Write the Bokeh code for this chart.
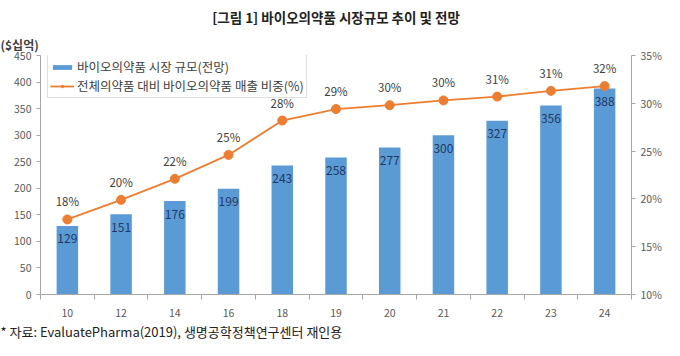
from bokeh.plotting import figure
from bokeh.models import (Range1d, LinearAxis, FixedTicker, PrintfTickFormatter,
                          Title, Legend, LegendItem, ColumnDataSource)
from bokeh.core.properties import value
from bokeh.embed import file_html
from bokeh.resources import INLINE

years = ["10", "12", "14", "16", "18", "19", "20", "21", "22", "23", "24"]
market = [129, 151, 176, 199, 243, 258, 277, 300, 327, 356, 388]
share = [17.85, 19.9, 22.1, 24.6, 28.2, 29.4, 29.8, 30.3, 30.7, 31.3, 31.8]
share_labels = ["18%", "20%", "22%", "25%", "28%", "29%", "30%", "30%", "31%", "31%", "32%"]
left_ticks = [0, 50, 100, 150, 200, 250, 300, 350, 400, 450]
right_ticks = [10, 15, 20, 25, 30, 35]

FONT = "Noto Sans CJK KR"
BLUE = "#5B9BD5"
ORANGE = "#ED7D31"
AXIS = "#A6A6A6"
TICKTXT = "#595959"

xs = [i + 0.5 for i in range(len(years))]
src = ColumnDataSource(dict(x=xs, market=market, share=share,
                            mlab=[str(v) for v in market], slab=share_labels))

p = figure(width=664, height=340, output_backend="svg", toolbar_location=None,
           x_range=Range1d(0, len(years)), y_range=Range1d(0, 450),
           min_border_left=40, min_border_right=30, min_border_top=52, min_border_bottom=40)
p.extra_y_ranges = {"pct": Range1d(10, 35)}
p.outline_line_color = None
p.xgrid.visible = False
p.ygrid.visible = False
p.background_fill_color = "white"
p.border_fill_color = "white"

bars = p.vbar(x="x", top="market", width=0.4, source=src, fill_color=BLUE, line_color=None)
ln = p.line(x="x", y="share", source=src, y_range_name="pct", line_color=ORANGE, line_width=1.8)
pts = p.scatter(x="x", y="share", source=src, y_range_name="pct", size=9,
                fill_color=ORANGE, line_color=ORANGE)

p.text(x="x", y="market", text="mlab", source=src, text_font=value(FONT), text_font_size="12px",
       text_color="#1F3864", text_align="center", text_baseline="middle", y_offset=13)
p.text(x="x", y="share", text="slab", source=src, y_range_name="pct", text_font=value(FONT),
       text_font_size="11.5px", text_color="#404040", text_align="center",
       text_baseline="middle", y_offset=-18)

# axes
xa = p.xaxis[0]
xa.ticker = FixedTicker(ticks=xs, minor_ticks=list(range(len(years) + 1)))
xa.major_label_overrides = {x: y for x, y in zip(xs, years)}
xa.major_tick_line_color = None
xa.major_tick_in = 0
xa.major_tick_out = 0
xa.minor_tick_in = 0
xa.minor_tick_out = 5
xa.minor_tick_line_color = AXIS
xa.axis_line_color = AXIS
xa.axis_label_standoff = 0

ya = p.yaxis[0]
ya.ticker = FixedTicker(ticks=left_ticks)
ya.major_tick_in = 0
ya.major_tick_out = 4
ya.minor_tick_line_color = None
ya.axis_line_color = AXIS
ya.major_tick_line_color = AXIS

ra = LinearAxis(y_range_name="pct", ticker=FixedTicker(ticks=right_ticks),
                formatter=PrintfTickFormatter(format="%d%%"))
ra.major_tick_in = 0
ra.major_tick_out = 4
ra.minor_tick_line_color = None
ra.axis_line_color = AXIS
ra.major_tick_line_color = AXIS
p.add_layout(ra, "right")

for ax in (xa, ya, ra):
    ax.major_label_text_font = FONT
    ax.major_label_text_font_size = "10.5px"
    ax.major_label_text_color = TICKTXT
    ax.major_label_standoff = 5
xa.major_label_standoff = 9

legend = Legend(items=[LegendItem(label="바이오의약품 시장 규모(전망)", renderers=[bars]),
                       LegendItem(label="전체의약품 대비 바이오의약품 매출 비중(%)", renderers=[ln, pts])],
                location=(7, 196), margin=0, padding=2, spacing=0,
                label_text_font=FONT, label_text_font_size="12.5px", label_text_color="#404040",
                label_height=13, glyph_height=6, glyph_width=24, label_standoff=3,
                border_line_color="#BFBFBF", border_line_width=1,
                background_fill_alpha=1)
p.add_layout(legend, "center")

unit_title = Title(text="($십억)", text_font=FONT, text_font_size="12px", text_font_style="bold",
                   text_color="#404040", align="left", offset=-40, standoff=6)
p.add_layout(unit_title, "above")
main_title = Title(text="[그림 1] 바이오의약품 시장규모 추이 및 전망", text_font=FONT,
                   text_font_size="13.5px", text_font_style="bold", text_color="#222222",
                   align="center", offset=-12, standoff=8)
p.add_layout(main_title, "above")

foot = Title(text="* 자료: EvaluatePharma(2019), 생명공학정책연구센터 재인용", text_font=FONT,
             text_font_size="13px", text_font_style="normal", text_color="#222222",
             align="left", offset=-40, standoff=0, vertical_align="bottom")
p.add_layout(foot, "below")

open("out.html", "w").write(file_html(p, INLINE))
